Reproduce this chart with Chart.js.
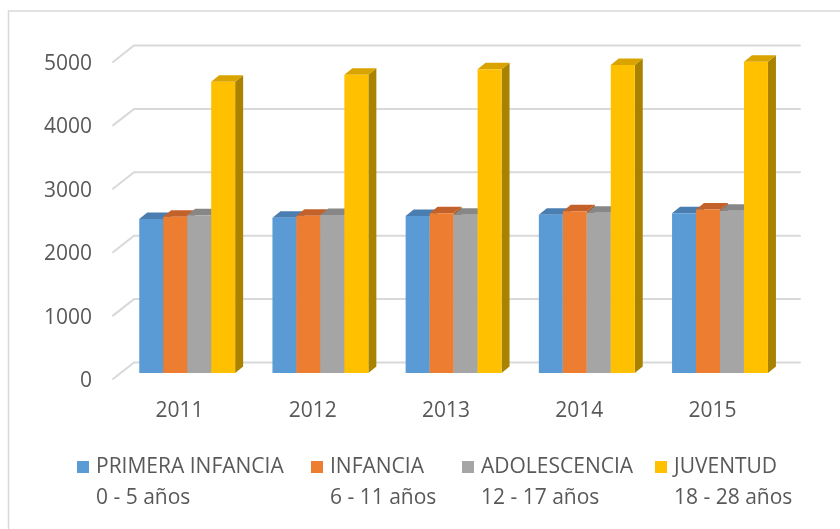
<!DOCTYPE html>
<html>
<head>
<meta charset="utf-8">
<script src="https://cdn.jsdelivr.net/npm/chart.js@4.4.0/dist/chart.umd.min.js"></script>
<style>
html,body{margin:0;padding:0;background:#fff;}
#wrap{position:relative;width:840px;height:529px;}
</style>
</head>
<body>
<div id="wrap"><canvas id="c" width="840" height="529"></canvas></div>
<script>
// ---- data ----
const categories = ['2011', '2012', '2013', '2014', '2015'];
const seriesNames = ['PRIMERA INFANCIA', 'INFANCIA', 'ADOLESCENCIA', 'JUVENTUD'];
const seriesAges = ['0 - 5 años', '6 - 11 años', '12 - 17 años', '18 - 28 años'];
const primeraInfancia = [2430, 2450, 2475, 2497, 2520];
const infancia = [2465, 2480, 2520, 2550, 2580];
const adolescencia = [2490, 2492, 2497, 2528, 2560];
const juventud = [4595, 4705, 4790, 4858, 4910];
const yTicks = [0, 1000, 2000, 3000, 4000, 5000];

// ---- styles ----
const FONT = '"Open Sans", "DejaVu Sans", sans-serif';
const TEXT = '#595959';
const GRID = '#d9d9d9';
const frontColors = ['#5B9BD5', '#ED7D31', '#A5A5A5', '#FFC000'];
const topColors = ['#4A7EB0', '#C2622A', '#878787', '#D9A300'];
const sideColors = ['#3F6C98', '#A9561F', '#747474', '#A98300'];
const WALL_DX = 21, WALL_DY = 16.5;
const BAR_TX = 7.6, BAR_TY = 6;
const BAR_DX = 8, BAR_DY = 6.5;

const allSeries = [primeraInfancia, infancia, adolescencia, juventud];

const framePlugin = {
  id: 'frame',
  beforeDraw(chart) {
    const ctx = chart.ctx;
    ctx.save();
    ctx.fillStyle = '#ffffff';
    ctx.fillRect(0, 0, chart.width, chart.height);
    ctx.strokeStyle = GRID;
    ctx.lineWidth = 1.5;
    ctx.beginPath();
    ctx.moveTo(8.5, chart.height);
    ctx.lineTo(8.5, 11);
    ctx.lineTo(chart.width, 11);
    ctx.stroke();
    ctx.restore();
  }
};

const wallPlugin = {
  id: 'wall',
  beforeDatasetsDraw(chart) {
    const ctx = chart.ctx;
    const a = chart.chartArea;
    const y = chart.scales.y;
    ctx.save();
    ctx.strokeStyle = GRID;
    ctx.lineWidth = 2;
    ctx.lineCap = 'round';
    y.ticks.forEach(t => {
      const py = y.getPixelForValue(t.value);
      ctx.beginPath();
      ctx.moveTo(a.left, py);
      ctx.lineTo(a.left + WALL_DX, py - WALL_DY);
      ctx.lineTo(a.right + WALL_DX, py - WALL_DY);
      ctx.stroke();
    });
    ctx.restore();
  }
};

// Draw bars ourselves (left to right) so each bar's front covers its left neighbour's side
const bar3dPlugin = {
  id: 'bar3d',
  beforeDatasetDraw() { return false; },
  afterDatasetsDraw(chart) {
    const ctx = chart.ctx;
    ctx.save();
    ctx.translate(BAR_TX, -BAR_TY);
    const metas = chart.data.datasets.map((d, i) => chart.getDatasetMeta(i));
    categories.forEach((c, j) => {
      metas.forEach((meta, i) => {
        const bar = meta.data[j];
        const p = bar.getProps(['x', 'y', 'base', 'width'], true);
        const x1 = p.x - p.width / 2, x2 = p.x + p.width / 2;
        const yt = p.y, yb = p.base;
        ctx.fillStyle = sideColors[i];
        ctx.beginPath();
        ctx.moveTo(x2, yt);
        ctx.lineTo(x2 + BAR_DX, yt - BAR_DY);
        ctx.lineTo(x2 + BAR_DX, yb - BAR_DY);
        ctx.lineTo(x2, yb);
        ctx.closePath();
        ctx.fill();
        ctx.fillStyle = topColors[i];
        ctx.beginPath();
        ctx.moveTo(x1, yt);
        ctx.lineTo(x2, yt);
        ctx.lineTo(x2 + BAR_DX, yt - BAR_DY);
        ctx.lineTo(x1 + BAR_DX, yt - BAR_DY);
        ctx.closePath();
        ctx.fill();
        bar.draw(ctx);
      });
    });
    ctx.restore();
  }
};

const legendPlugin = {
  id: 'legend2',
  afterDraw(chart) {
    const ctx = chart.ctx;
    const boxX = [77, 311, 462, 655];
    const row1 = 467, row2 = 498;
    ctx.save();
    ctx.font = '21px ' + FONT;
    ctx.textBaseline = 'middle';
    ctx.textAlign = 'left';
    chart.data.datasets.forEach((ds, i) => {
      ctx.fillStyle = frontColors[i];
      ctx.fillRect(boxX[i], row1 - 6, 12, 12);
      ctx.fillStyle = TEXT;
      ctx.fillText(seriesNames[i], boxX[i] + 19, row1);
      ctx.fillText(seriesAges[i], boxX[i] + 19, row2);
    });
    ctx.restore();
  }
};

new Chart(document.getElementById('c'), {
  type: 'bar',
  data: {
    labels: categories,
    datasets: allSeries.map((vals, i) => ({
      label: seriesNames[i] + ' ' + seriesAges[i],
      data: vals,
      backgroundColor: frontColors[i],
      borderWidth: 0,
      barPercentage: 1,
      categoryPercentage: 0.72,
      clip: false
    }))
  },
  options: {
    responsive: false,
    animation: false,
    devicePixelRatio: 1,
    layout: { padding: { top: 62, right: 61, left: 0, bottom: 0 } },
    plugins: {
      legend: { display: false },
      tooltip: { enabled: false }
    },
    scales: {
      x: {
        grid: { display: false, drawTicks: false },
        border: { display: false },
        ticks: { color: TEXT, font: { family: FONT, size: 21 }, padding: 19 },
        afterFit(s) { s.height = 150; }
      },
      y: {
        min: 0,
        max: 5000,
        grid: { display: false, drawTicks: false },
        border: { display: false },
        afterBuildTicks(s) { s.ticks = yTicks.map(v => ({ value: v })); },
        ticks: { color: TEXT, font: { family: FONT, size: 21 }, padding: 21, labelOffset: 2, callback: v => String(v) },
        afterFit(s) { s.width = 113; }
      }
    }
  },
  plugins: [framePlugin, wallPlugin, bar3dPlugin, legendPlugin]
});
</script>
</body>
</html>
